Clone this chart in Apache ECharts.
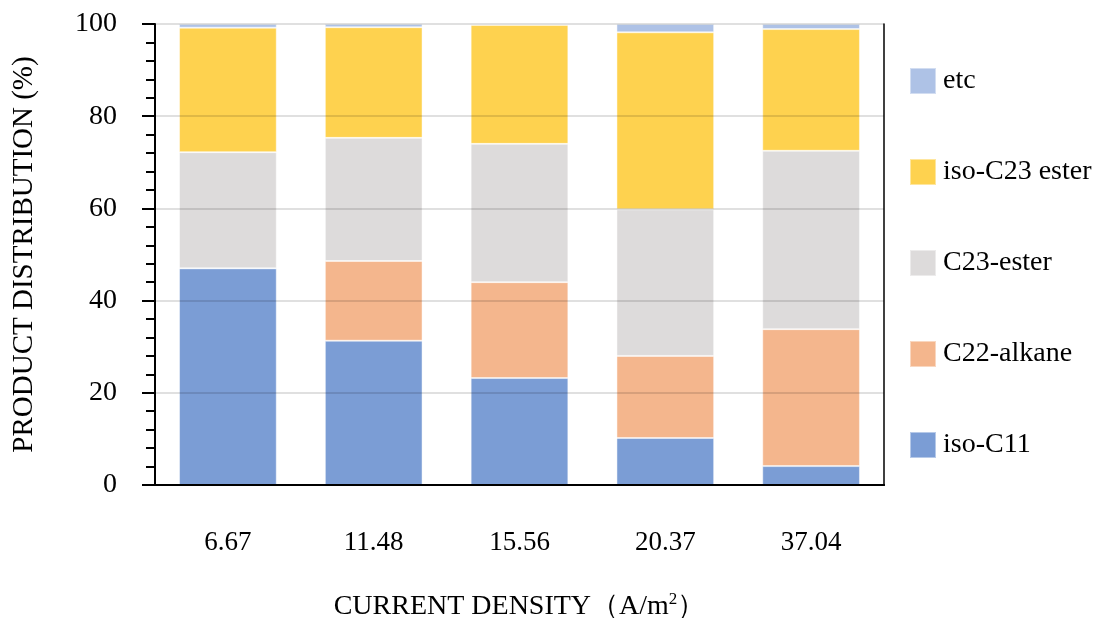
<!DOCTYPE html>
<html>
<head>
<meta charset="utf-8">
<script src="https://cdn.jsdelivr.net/npm/echarts@6/dist/echarts.min.js"></script>
<style>
  html, body { margin: 0; padding: 0; background: #fff; }
  #main { width: 1093px; height: 618px; }
</style>
</head>
<body>
<div id="main"></div>
<script>
// 电流密度 (A/m2)
var categories = ['6.67', '11.48', '15.56', '20.37', '37.04'];

// 产物分布 (%)，自下而上堆叠
var isoC11     = [47.0, 31.3, 23.2, 10.2, 4.1];
var c22Alkane  = [0, 17.3, 20.8, 17.8, 29.7];
var c23Ester   = [25.2, 26.7, 30.0, 31.8, 38.7];
var isoC23     = [27.0, 24.0, 25.8, 38.4, 26.4];
var etc        = [0.8, 0.7, 0.2, 1.8, 1.1];

var yTicks = [0, 20, 40, 60, 80, 100];

var font = '"Liberation Serif", "Times New Roman", serif';

function barSeries(name, data, color) {
    return {
        name: name,
        type: 'bar',
        stack: 'total',
        barWidth: '67%',
        data: data,
        itemStyle: {
            color: color,
            borderColor: 'rgba(255,255,255,0.45)',
            borderWidth: 1
        }
    };
}

var option = {
    backgroundColor: '#fff',
    animation: false,
    textStyle: { fontFamily: font, color: '#000' },
    grid: {
        left: 155, right: 209, top: 24, bottom: 133,
        containLabel: false,
        outerBoundsMode: 'none'
    },
    legend: {
        orient: 'vertical',
        left: 904, top: 62,
        itemWidth: 26, itemHeight: 26, itemGap: 63,
        icon: 'rect',
        textStyle: { fontFamily: font, fontSize: 28, color: '#000', padding: [0, 0, 0, 2] },
        data: ['etc', 'iso-C23 ester', 'C23-ester', 'C22-alkane', 'iso-C11']
    },
    xAxis: [
        {
            type: 'category',
            data: categories,
            z: 10,
            axisLine: { lineStyle: { color: '#000', width: 2 } },
            axisTick: { alignWithLabel: true, length: 10, lineStyle: { color: '#000', width: 2 } },
            axisLabel: { fontFamily: font, fontSize: 27, color: '#000', margin: 44 },
            name: 'CURRENT DENSITY（A/m{sup|2}）',
            nameLocation: 'middle',
            nameGap: 106,
            nameTextStyle: {
                fontFamily: font, fontSize: 28, color: '#000',
                rich: { sup: { fontFamily: font, fontSize: 17, color: '#000', verticalAlign: 'top', padding: [0, 0, 14, 0] } }
            }
        },
        {
            // 上边框
            type: 'category',
            data: categories,
            position: 'top',
            z: 10,
            axisLine: { show: true, lineStyle: { color: '#000', width: 2 } },
            axisTick: { show: false },
            axisLabel: { show: false }
        }
    ],
    yAxis: [
        {
            type: 'value',
            min: yTicks[0], max: yTicks[yTicks.length - 1], interval: 20,
            z: 10,
            axisLine: { show: true, lineStyle: { color: '#000', width: 2 } },
            axisTick: { show: true, length: 13, lineStyle: { color: '#000', width: 2 } },
            minorTick: { show: true, splitNumber: 5, length: 9, lineStyle: { color: '#000', width: 2 } },
            axisLabel: { fontFamily: font, fontSize: 28, color: '#000', margin: 38 },
            splitLine: { show: true, lineStyle: { color: 'rgba(0,0,0,0.12)', width: 2 } },
            name: 'PRODUCT DISTRIBUTION (%)',
            nameLocation: 'middle',
            nameGap: 116,
            nameTextStyle: { fontFamily: font, fontSize: 29, color: '#000' }
        },
        {
            // 右边框
            type: 'value',
            min: yTicks[0], max: yTicks[yTicks.length - 1], interval: 20,
            position: 'right',
            z: 10,
            axisLine: { show: true, lineStyle: { color: '#000', width: 1.5 } },
            axisTick: { show: false },
            axisLabel: { show: false },
            splitLine: { show: false }
        }
    ],
    series: [
        barSeries('iso-C11', isoC11, '#7b9dd5'),
        barSeries('C22-alkane', c22Alkane, '#f4b68d'),
        barSeries('C23-ester', c23Ester, '#dddbdb'),
        barSeries('iso-C23 ester', isoC23, '#fed24f'),
        barSeries('etc', etc, '#aec2e6')
    ]
};

var chart = echarts.init(document.getElementById('main'));
chart.setOption(option);
</script>
</body>
</html>
